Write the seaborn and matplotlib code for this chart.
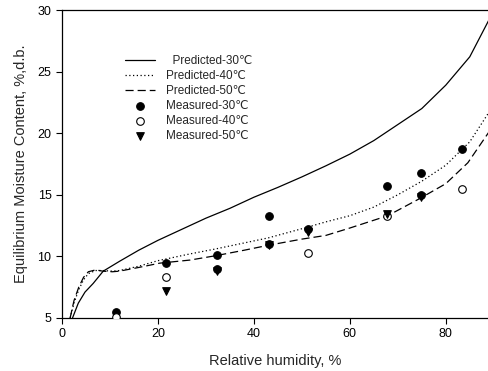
# Moisture sorption isotherms: predicted curves vs measured points

import pandas as pd
import seaborn as sns
import matplotlib.pyplot as plt

# predicted curves
pred30_rh = [2.2, 3.4, 4.8, 6.5, 8.6, 12, 16, 20, 25, 30, 35, 40, 45, 50, 55, 60, 65, 70, 75, 80, 85, 89]
pred30_emc = [5.0, 6.2, 7.1, 7.8, 8.8, 9.6, 10.5, 11.3, 12.2, 13.1, 13.9, 14.8, 15.6, 16.45, 17.35, 18.3, 19.4, 20.7, 22.0, 23.9, 26.2, 29.2]

pred40_rh = [1.7, 2.5, 3.5, 4.5, 5.5, 7, 8.5, 10.5, 12, 16, 20, 26.7, 32, 43, 51, 55, 60, 65, 70, 75, 80, 85, 89]
pred40_emc = [5.0, 6.2, 7.3, 8.1, 8.6, 8.85, 8.85, 8.8, 8.85, 9.2, 9.65, 10.2, 10.6, 11.5, 12.35, 12.8, 13.3, 14.0, 15.0, 16.1, 17.4, 19.3, 21.7]

pred50_rh = [1.7, 2.5, 3.5, 4.5, 5.5, 7, 8.5, 10.5, 12, 16, 20.4, 26.7, 32, 38, 43, 50, 55, 60, 67.9, 74.6, 80, 84.6, 89]
pred50_emc = [5.0, 6.4, 7.5, 8.3, 8.75, 8.9, 8.8, 8.75, 8.8, 9.1, 9.45, 9.7, 10.05, 10.5, 10.9, 11.4, 11.7, 12.3, 13.3, 14.7, 15.9, 17.6, 20.1]

# measured points
meas30_rh = [11.3, 21.6, 32.4, 43.1, 51.3, 67.7, 74.9, 83.3]
meas30_emc = [5.5, 9.5, 10.07, 13.3, 12.2, 15.7, 16.8, 18.7]

meas40_rh = [11.3, 21.6, 51.3, 67.7, 83.3]
meas40_emc = [5.1, 8.3, 10.26, 13.3, 15.46]

meas50_rh = [21.6, 32.4, 43.1, 51.3, 67.7, 74.9]
meas50_emc = [7.15, 8.8, 10.9, 12.0, 13.45, 14.85]

# dark dots sitting behind some triangles
extra_rh = [32.4, 43.1, 74.9]
extra_emc = [8.95, 11.0, 14.95]

sns.set_style('ticks')
plt.rcParams['font.family'] = ['Liberation Sans', 'DejaVu Sans']

fig = plt.figure(figsize=(4.88, 3.71), dpi=100)
ax = fig.add_axes([0.127, 0.143, 0.873, 0.830])

lw = 0.9
sns.lineplot(x=pred30_rh, y=pred30_emc, ax=ax, color='black', lw=lw, sort=False,
             label='  Predicted-30\u2103')
sns.lineplot(x=pred40_rh, y=pred40_emc, ax=ax, color='black', lw=lw, sort=False,
             linestyle=(0, (1, 2)), label='Predicted-40\u2103')
sns.lineplot(x=pred50_rh, y=pred50_emc, ax=ax, color='black', lw=lw, sort=False,
             linestyle=(0, (6.5, 3.2)), label='Predicted-50\u2103')

sns.scatterplot(x=meas30_rh, y=meas30_emc, ax=ax, marker='o', s=30, color='black',
                edgecolor='black', linewidth=0.8, label='Measured-30\u2103', zorder=3)
sns.scatterplot(x=extra_rh, y=extra_emc, ax=ax, marker='o', s=30, color='black',
                edgecolor='black', linewidth=0.8, legend=False, zorder=3)
sns.scatterplot(x=meas40_rh, y=meas40_emc, ax=ax, marker='o', s=30, color='white',
                edgecolor='black', linewidth=0.8, label='Measured-40\u2103', zorder=4)
sns.scatterplot(x=meas50_rh, y=meas50_emc, ax=ax, marker='v', s=30, color='black',
                edgecolor='black', linewidth=0.8, label='Measured-50\u2103', zorder=5)

ax.set_xlim(0, 88.8)
ax.set_ylim(5, 30)
ax.set_xticks([0, 20, 40, 60, 80])
ax.set_yticks([5, 10, 15, 20, 25, 30])
ax.tick_params(direction='out', length=4, width=0.8, labelsize=9, colors='black')
for side in ['left', 'bottom', 'top']:
    ax.spines[side].set_linewidth(0.9)
    ax.spines[side].set_color('black')
ax.spines['right'].set_visible(False)

ax.set_xlabel('Relative humidity, %', fontsize=10.5, labelpad=10)
ax.set_ylabel('Equilibrium Moisture Content, %,d.b.', fontsize=10.5, labelpad=7)

ax.legend(loc='upper left', bbox_to_anchor=(0.135, 0.872), frameon=False, fontsize=8.5,
          handlelength=2.5, handletextpad=0.9, labelspacing=0.25, borderpad=0)

plt.savefig('out.png', dpi=100)
plt.close()
